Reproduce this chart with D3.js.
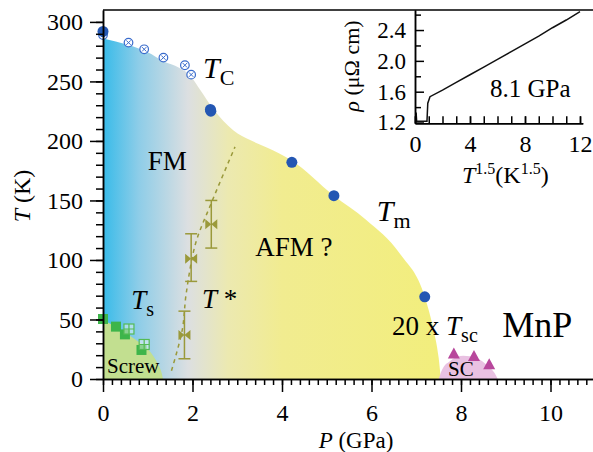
<!DOCTYPE html>
<html>
<head>
<meta charset="utf-8">
<script src="https://cdn.jsdelivr.net/npm/d3@7"></script>
<style>
  body { margin: 0; background: #fff; }
  svg { display: block; }
  svg text { font-family: "Liberation Serif", "DejaVu Serif", "Times New Roman", serif; }
</style>
</head>
<body>
<svg id="chart" width="593" height="452"></svg>
<script>
// ---- data ----
const pressureTicks = [0, 2, 4, 6, 8, 10];
const tempTicks = [0, 50, 100, 150, 200, 250, 300];

// Tc / Tm (filled circles) and Tc from another run (open circles with x)
const tcFilled = [[0, 292], [2.4, 226.5], [2.41, 225], [4.22, 182], [5.16, 154], [7.19, 69]];
const tcOpen = [[0, 289], [0.57, 282.6], [0.92, 277], [1.35, 270], [1.83, 263.6], [1.97, 255.7]];
// Ts (screw transition)
const tsFilled = [[0, 50.4], [0.29, 44], [0.49, 37.5], [0.86, 24.4]];
const tsOpen = [[0.58, 42], [0.92, 29]];
// T* with error bars: [P, T, low, high]
const tStar = [[1.82, 37, 17, 57], [1.97, 101, 82, 122], [2.42, 130, 110, 150]];
const tStarGuide = [[1.53, 7], [1.77, 41], [1.86, 72], [2.07, 114], [2.4, 146], [2.95, 195]];
// 20 x Tsc
const tscPoints = [[7.84, 21.5], [8.29, 19.3], [8.63, 12.4]];

// phase boundaries
const phaseBoundary = [[0, 286], [0.57, 280.5], [1.0, 274.5], [1.35, 267], [1.7, 261.5], [1.97, 254],
  [2.17, 243], [2.46, 227], [2.91, 209], [3.3, 200.5], [3.66, 194.5], [4.2, 184], [5.16, 154],
  [5.87, 134], [6.64, 105], [7.19, 69], [7.38, 42], [7.5, 18], [7.55, 0]];
const screwBoundary = [[0, 50], [0.4, 41], [0.8, 31], [1.05, 23], [1.22, 13], [1.31, 5], [1.34, 0]];
const scDome = [[7.5, 0], [7.58, 8], [7.75, 15], [8.05, 19.5], [8.35, 17.5], [8.6, 11], [8.75, 5], [8.82, 0]];

// inset: rho vs T^1.5 at 8.1 GPa
const insetXTicks = [0, 4, 8, 12];
const insetYTicks = [1.2, 1.6, 2.0, 2.4];
const rhoT15 = [0.08, 0.12, 0.87, 0.93, 1.09, 2, 3, 4, 5, 6, 7, 8, 9, 10, 11, 12];
const rhoVal = [1.33, 1.215, 1.215, 1.45, 1.535, 1.62, 1.72, 1.82, 1.92, 2.02, 2.12, 2.22, 2.32, 2.43, 2.53, 2.64];

// ---- chart ----
const serif = '"Liberation Serif", "DejaVu Serif", "Times New Roman", serif';
const svg = d3.select('#chart').attr('font-family', serif);
const x = d3.scaleLinear().domain([0, 11]).range([103, 103 + 11 * 44.75]);
const y = d3.scaleLinear().domain([0, 310]).range([379, 10]);

const defs = svg.append('defs');
const grad = defs.append('linearGradient')
    .attr('id', 'phaseGrad')
    .attr('gradientUnits', 'userSpaceOnUse')
    .attr('x1', x(0)).attr('x2', x(7.6)).attr('y1', 0).attr('y2', 0);
[[0, '#38bbe9'], [0.8, '#8ecde8'], [1.9, '#dcdfe1'], [2.8, '#ece9b0'], [4, '#f1ec90'], [7.6, '#f2ee7c']]
    .forEach(s => grad.append('stop').attr('offset', s[0] / 7.6).attr('stop-color', s[1]));

const area = d3.area()
    .x(d => x(d[0]))
    .y0(y(0))
    .y1(d => y(d[1]))
    .curve(d3.curveMonotoneX);

svg.append('path').attr('d', area(phaseBoundary)).attr('fill', 'url(#phaseGrad)');
svg.append('path').attr('d', area(screwBoundary)).attr('fill', '#c2df90');
svg.append('path').attr('d', area(scDome)).attr('fill', '#e9c1e2');

// T* guide
const olive = '#9a993a';
svg.append('path')
    .attr('d', d3.line().x(d => x(d[0])).y(d => y(d[1])).curve(d3.curveCatmullRom)(tStarGuide))
    .attr('fill', 'none')
    .attr('stroke', olive)
    .attr('stroke-width', 1.5)
    .attr('stroke-dasharray', '4,4');

// T* error bars + bowtie markers
const ts = svg.append('g').selectAll('g').data(tStar).enter().append('g');
ts.append('line')
    .attr('x1', d => x(d[0])).attr('x2', d => x(d[0]))
    .attr('y1', d => y(d[2])).attr('y2', d => y(d[3]))
    .attr('stroke', olive).attr('stroke-width', 1.5);
[2, 3].forEach(k => {
    ts.append('line')
        .attr('x1', d => x(d[0]) - 6).attr('x2', d => x(d[0]) + 6)
        .attr('y1', d => y(d[k])).attr('y2', d => y(d[k]))
        .attr('stroke', olive).attr('stroke-width', 1.5);
});
ts.append('path')
    .attr('transform', d => `translate(${x(d[0])},${y(d[1])})`)
    .attr('d', 'M-6,-5L0,0L-6,5ZM6,-5L0,0L6,5Z')
    .attr('fill', olive);

// Ts squares
svg.append('g').selectAll('rect').data(tsFilled).enter().append('rect')
    .attr('x', d => x(d[0]) - 5).attr('y', d => y(d[1]) - 5)
    .attr('width', 10).attr('height', 10)
    .attr('fill', '#3db54a');
const tso = svg.append('g').selectAll('g').data(tsOpen).enter().append('g')
    .attr('transform', d => `translate(${x(d[0])},${y(d[1])})`);
tso.append('rect').attr('x', -5).attr('y', -5).attr('width', 10).attr('height', 10)
    .attr('fill', 'white').attr('fill-opacity', 0.4)
    .attr('stroke', '#55bb55').attr('stroke-width', 1.2);
tso.append('path').attr('d', 'M0,-5V5M-5,0H5').attr('stroke', '#55bb55').attr('stroke-width', 1.2);

// Tc open circles with x
const tco = svg.append('g').selectAll('g').data(tcOpen).enter().append('g')
    .attr('transform', d => `translate(${x(d[0])},${y(d[1])})`);
tco.append('circle').attr('r', 4.3).attr('fill', 'white')
    .attr('stroke', '#3a6ccc').attr('stroke-width', 1.2);
tco.append('path').attr('d', 'M-2.2,-2.2L2.2,2.2M-2.2,2.2L2.2,-2.2')
    .attr('stroke', '#3a6ccc').attr('stroke-width', 1);

// Tc / Tm filled circles
svg.append('g').selectAll('circle').data(tcFilled).enter().append('circle')
    .attr('cx', d => x(d[0])).attr('cy', d => y(d[1])).attr('r', 5.5)
    .attr('fill', '#2457b3');

// Tsc triangles
svg.append('g').selectAll('path').data(tscPoints).enter().append('path')
    .attr('transform', d => `translate(${x(d[0])},${y(d[1])})`)
    .attr('d', 'M-6,5L0,-6L6,5Z')
    .attr('fill', '#b8479c');

// ---- axes ----
function styleAxis(g) {
    g.attr('font-family', serif);
    g.selectAll('path, line').attr('stroke', '#000').attr('stroke-width', 1.5);
    g.selectAll('text').attr('fill', '#000');
}
svg.append('g')
    .attr('transform', `translate(0,${y(0)})`)
    .call(d3.axisBottom(x).tickValues(d3.range(0, 11.01, 0.2)).tickSize(6).tickSizeOuter(0).tickFormat(''))
    .call(styleAxis);
svg.append('g')
    .attr('transform', `translate(0,${y(0)})`)
    .call(d3.axisBottom(x).tickValues(pressureTicks).tickSize(13).tickSizeOuter(0).tickPadding(12))
    .call(styleAxis)
    .call(g => g.attr('font-size', 24));
svg.append('g')
    .attr('transform', `translate(${x(0)},0)`)
    .call(d3.axisLeft(y).tickValues(d3.range(0, 310, 10)).tickSize(7).tickSizeOuter(0).tickFormat(''))
    .call(styleAxis);
svg.append('g')
    .attr('transform', `translate(${x(0)},0)`)
    .call(d3.axisLeft(y).tickValues(tempTicks).tickSize(13).tickSizeOuter(0).tickPadding(7))
    .call(styleAxis)
    .call(g => g.attr('font-size', 24));
svg.append('line')
    .attr('x1', x(0)).attr('x2', 593).attr('y1', y(310)).attr('y2', y(310))
    .attr('stroke', '#000').attr('stroke-width', 1.5);

// axis titles
svg.append('text')
    .attr('x', 356).attr('y', 448).attr('text-anchor', 'middle').attr('font-size', 23)
    .call(t => {
        t.append('tspan').attr('font-style', 'italic').text('P');
        t.append('tspan').text(' (GPa)');
    });
svg.append('text')
    .attr('transform', 'translate(30,196) rotate(-90)').attr('text-anchor', 'middle').attr('font-size', 24)
    .call(t => {
        t.append('tspan').attr('font-style', 'italic').text('T');
        t.append('tspan').text(' (K)');
    });

// ---- labels ----
function subLabel(p, t, size, main, sub, subSize, before) {
    const el = svg.append('text').attr('x', x(p)).attr('y', y(t)).attr('font-size', size);
    if (before) el.append('tspan').text(before);
    el.append('tspan').attr('font-style', 'italic').text(main);
    if (sub) el.append('tspan').attr('font-size', subSize).attr('dy', 7).text(sub);
    return el;
}
subLabel(2.235, 253, 30, 'T', 'C', 22);
subLabel(6.12, 133, 30, 'T', 'm', 22);
subLabel(0.63, 59, 27, 'T', 's', 20);
subLabel(6.46, 37, 27, 'T', 'sc', 20, '20 x ');
svg.append('text').attr('x', x(2.21)).attr('y', y(60)).attr('font-size', 27)
    .call(t => {
        t.append('tspan').attr('font-style', 'italic').text('T');
        t.append('tspan').text(' *');
    });
svg.append('text').attr('x', x(1.0)).attr('y', y(175.5)).attr('font-size', 27).text('FM');
svg.append('text').attr('x', x(3.4)).attr('y', y(103.5)).attr('font-size', 27).text('AFM ?');
svg.append('text').attr('x', x(0.09)).attr('y', y(5)).attr('font-size', 21).text('Screw');
svg.append('text').attr('x', x(7.71)).attr('y', y(2.5)).attr('font-size', 21).text('SC');
svg.append('text').attr('x', x(8.92)).attr('y', y(35.3)).attr('font-size', 36).text('MnP');

// ---- inset ----
const ix = d3.scaleLinear().domain([0, 12.2]).range([415, 415 + 12.2 * 13.75]);
const iy = d3.scaleLinear().domain([1.19, 2.66]).range([123.3, 10]);
const inset = svg.append('g');
inset.append('path')
    .datum(d3.zip(rhoT15, rhoVal))
    .attr('d', d3.line().x(d => ix(d[0])).y(d => iy(d[1])))
    .attr('fill', 'none').attr('stroke', '#111').attr('stroke-width', 1.5);
inset.append('g')
    .attr('transform', `translate(0,${iy(1.19)})`)
    .call(d3.axisBottom(ix).tickValues(d3.range(0, 12.1, 1)).tickSize(-7).tickSizeOuter(0).tickFormat(''))
    .call(styleAxis);
inset.append('g')
    .attr('transform', `translate(0,${iy(1.19)})`)
    .call(d3.axisBottom(ix).tickValues(insetXTicks).tickSize(-7).tickSizeOuter(0).tickPadding(12))
    .call(styleAxis)
    .call(g => g.attr('font-size', 24));
inset.append('g')
    .attr('transform', `translate(${ix(0)},0)`)
    .call(d3.axisLeft(iy).tickValues([1.4, 1.8, 2.2, 2.6]).tickSize(-6).tickSizeOuter(0).tickFormat(''))
    .call(styleAxis);
inset.append('g')
    .attr('transform', `translate(${ix(0)},0)`)
    .call(d3.axisLeft(iy).tickValues(insetYTicks).tickSize(-9).tickSizeOuter(0).tickPadding(9)
        .tickFormat(d3.format('.1f')))
    .call(styleAxis)
    .call(g => g.attr('font-size', 23));
inset.append('text').attr('x', 490).attr('y', iy(1.53)).attr('font-size', 25).text('8.1 GPa');
inset.append('text')
    .attr('x', 462).attr('y', 183).attr('font-size', 24)
    .call(t => {
        t.append('tspan').attr('font-style', 'italic').text('T');
        t.append('tspan').attr('font-size', 16).attr('dy', -9).text('1.5');
        t.append('tspan').attr('dy', 9).text('(K');
        t.append('tspan').attr('font-size', 16).attr('dy', -9).text('1.5');
        t.append('tspan').attr('dy', 9).text(')');
    });
inset.append('text')
    .attr('transform', 'translate(359,66) rotate(-90)').attr('text-anchor', 'middle').attr('font-size', 22)
    .call(t => {
        t.append('tspan').attr('font-style', 'italic').text('ρ');
        t.append('tspan').text(' (μΩ cm)');
    });
</script>
</body>
</html>
